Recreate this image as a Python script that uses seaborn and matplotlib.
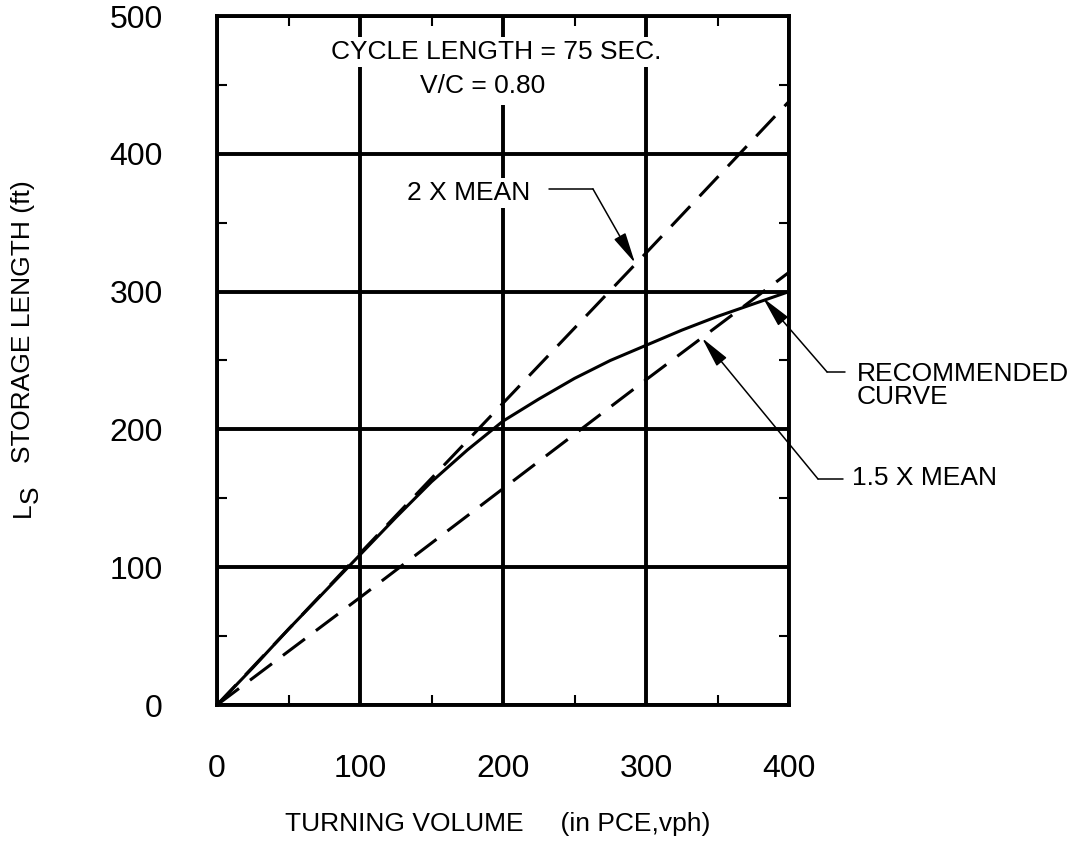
import matplotlib
matplotlib.use("Agg")
import matplotlib.pyplot as plt
import seaborn as sns
import pandas as pd
from matplotlib.ticker import MultipleLocator

# ---- data ----
volume = [0, 25, 50, 75, 100, 125, 150, 175, 200, 225, 250, 275, 300, 325, 350, 375, 400]
recommended = [0, 27, 55, 82, 109, 136, 162, 185, 206, 222, 237, 250, 261, 272, 282, 291, 300]
mean_volume = [0, 100, 200, 300, 400]
two_x_mean = [0, 110, 219, 328, 438]
one_half_x_mean = [0, 78, 157, 236, 314]
x_ticks = [0, 100, 200, 300, 400]
y_ticks = [0, 100, 200, 300, 400, 500]

sns.set_theme(style="ticks")
plt.rcParams["font.family"] = ["Liberation Sans", "DejaVu Sans"]
plt.rcParams["text.color"] = "black"

W, H = 1078, 847
fig = plt.figure(figsize=(W / 100, H / 100), dpi=100)
fig.patch.set_facecolor("white")
ax = fig.add_axes([217 / W, 1 - 705 / H, (789 - 217) / W, (705 - 16) / H])
ax.set_facecolor("white")

rec_df = pd.DataFrame({"volume": volume, "length": recommended})
mean_df = pd.DataFrame({"volume": mean_volume, "two": two_x_mean, "onehalf": one_half_x_mean})

sns.lineplot(data=rec_df, x="volume", y="length", ax=ax, color="black",
             linewidth=2.2, estimator=None, sort=False)
sns.lineplot(data=mean_df, x="volume", y="two", ax=ax, color="black",
             linewidth=2.2, estimator=None, sort=False)
ax.lines[-1].set_dashes([9, 4.5])
sns.lineplot(data=mean_df, x="volume", y="onehalf", ax=ax, color="black",
             linewidth=2.2, estimator=None, sort=False)
ax.lines[-1].set_dashes([9, 4.5])

ax.set_xlim(0, 400)
ax.set_ylim(0, 500)
ax.set_xticks(x_ticks)
ax.set_yticks(y_ticks)
ax.set_xticklabels([str(v) for v in x_ticks])
ax.set_yticklabels([str(v) for v in y_ticks])
ax.xaxis.set_minor_locator(MultipleLocator(50))
ax.yaxis.set_minor_locator(MultipleLocator(50))

ax.set_axisbelow(True)
ax.grid(True, which="major", color="black", linewidth=2.8)
for s in ax.spines.values():
    s.set_visible(True)
    s.set_color("black")
    s.set_linewidth(2.8)

ax.tick_params(which="major", length=0, labelsize=23, labelcolor="black")
ax.tick_params(axis="x", which="major", pad=35)
ax.tick_params(axis="y", which="major", pad=39)
ax.tick_params(which="minor", direction="in", length=7, width=1.5, color="black",
               top=True, right=True, bottom=True, left=True)

# axis labels
ax.set_xlabel("TURNING VOLUME     (in PCE,vph)", fontsize=19, color="black")
ax.xaxis.set_label_coords((497.5 - 217) / 572, (705 - 812) / 689)
ax.set_ylabel("STORAGE LENGTH (ft)", fontsize=19, color="black")
ax.yaxis.label.set_rotation_mode("default")
ax.yaxis.label.set_va("center")
ax.yaxis.label.set_ha("center")
ax.yaxis.set_label_coords((23 - 217) / 572, (705 - 322) / 689)
fig.text(23 / W, 1 - 510 / H, "L", rotation=90, ha="center", va="center", fontsize=19)
fig.text(31 / W, 1 - 494 / H, "S", rotation=90, ha="center", va="center", fontsize=19)

# header text
box = dict(facecolor="white", edgecolor="none", pad=2)
ax.text(195.1, 473.9, "CYCLE LENGTH = 75 SEC.", ha="center", va="center",
        fontsize=19, bbox=box, zorder=5)
ax.text(186.0, 449.2, "V/C = 0.80", ha="center", va="center", fontsize=19,
        bbox=dict(facecolor="white", edgecolor="none", pad=5), zorder=5)

# leader annotations
arrow = dict(arrowstyle="-|>,head_length=0.95,head_width=0.2", mutation_scale=20,
             lw=1.1, color="black", shrinkA=0, shrinkB=0)


def leader(label, tip, corner, end_x, text_x, text_y, ha, **kw):
    ax.annotate("", xy=tip, xytext=corner, arrowprops=arrow, annotation_clip=False, zorder=6)
    ax.plot([corner[0], end_x], [corner[1], corner[1]], color="black", lw=1.1,
            clip_on=False, zorder=6)
    ax.text(text_x, text_y, label, ha=ha, va="center", fontsize=19, zorder=6,
            clip_on=False, **kw)


leader("2 X MEAN", (292.3, 320.8), (262.9, 374.5), 232.2, 218.9, 371.5, "right",
       bbox=dict(facecolor="white", edgecolor="none", pad=2))
leader("RECOMMENDED\nCURVE", (381.8, 295.4), (426.6, 241.7), 439.2, 447.6, 231.9, "left",
       linespacing=0.95)
leader("1.5 X MEAN", (339.2, 266.3), (420.3, 164.0), 437.8, 444.0, 164.7, "left")

fig.savefig("out.png", dpi=100, facecolor="white")
